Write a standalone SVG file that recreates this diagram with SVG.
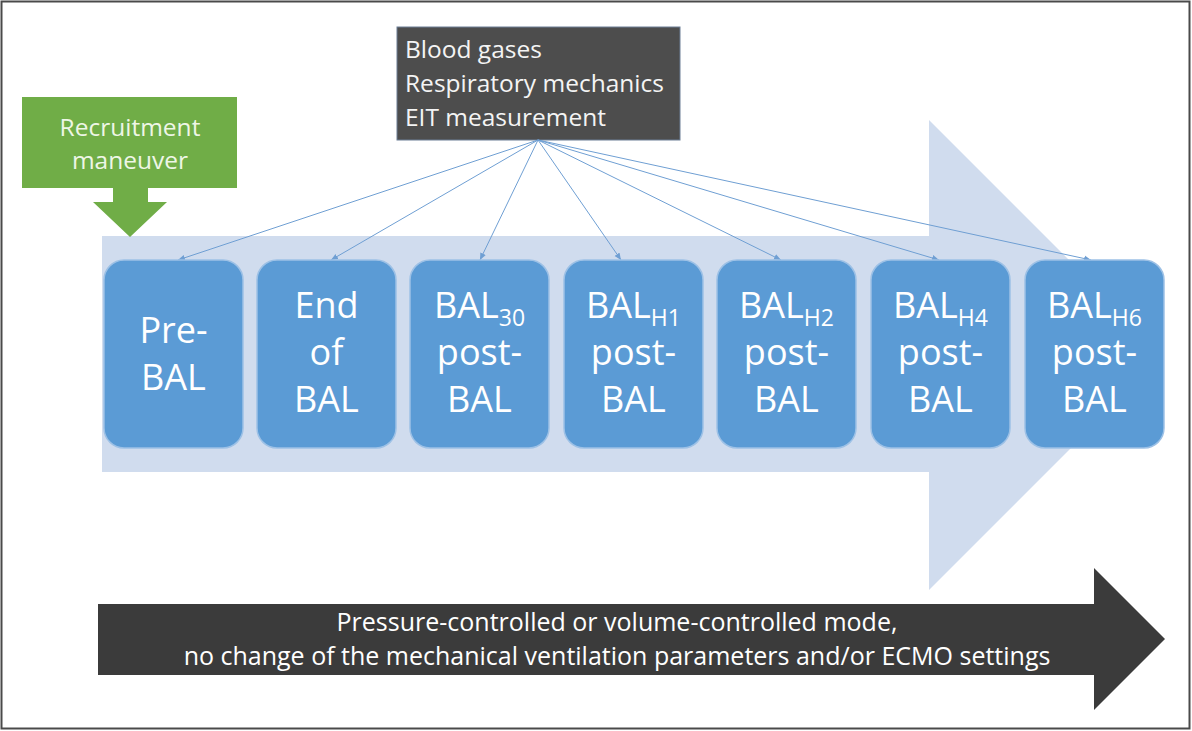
<svg xmlns="http://www.w3.org/2000/svg" width="1192" height="731" viewBox="0 0 1192 731">
<style>
  text { font-family: "Open Sans", "Liberation Sans", sans-serif; }
  .box { fill: #5B9BD5; stroke: #9DC1E6; stroke-width: 1.5; }
  .bt { fill: #FFFFFF; font-size: 36px; text-anchor: middle; }
  .sub { font-size: 23px; }
  .conn { stroke: #6F9FD3; stroke-width: 1; fill: none; marker-end: url(#ah); }
  .dt { fill: #F4F4F4; font-size: 24.5px; }
  .gt { fill: #EEF6E6; font-size: 24.5px; text-anchor: middle; }
  .bot { fill: #FFFFFF; font-size: 25px; text-anchor: middle; }
</style>
<defs>
  <marker id="ah" markerWidth="8" markerHeight="8" refX="7" refY="4" orient="auto" markerUnits="userSpaceOnUse">
    <path d="M0,1 L7,4 L0,7 Z" fill="#6F9FD3"/>
  </marker>
</defs>
<rect x="0" y="0" width="1192" height="731" fill="#FFFFFF"/>
<rect x="1.5" y="1.5" width="1188" height="727" fill="none" stroke="#4A4A4A" stroke-width="2"/>

<g id="timeline-arrow">
  <polygon points="102,236 929,236 929,120 1164,355 929,590 929,472 102,472" fill="#D0DCEE"/>
</g>

<g id="ventilation-arrow">
  <polygon points="98,604 1094,604 1094,568 1165,639 1094,710 1094,675 98,675" fill="#3B3B3B"/>
  <text class="bot" x="617" y="631">Pressure-controlled or volume-controlled mode,</text>
  <text class="bot" x="617" y="665">no change of the mechanical ventilation parameters and/or ECMO settings</text>
</g>

<g id="recruitment">
  <rect x="22" y="97" width="215" height="91" fill="#70AD47"/>
  <polygon points="113,187 148,187 148,202 167,202 130,237 93,202 113,202" fill="#70AD47"/>
  <text class="gt" x="130" y="136">Recruitment</text>
  <text class="gt" x="130" y="169">maneuver</text>
</g>

<g id="measurements">
  <rect x="397" y="27" width="283" height="113" fill="#4D4D4D" stroke="#6C7F96" stroke-width="1"/>
  <text class="dt" x="405" y="58">Blood gases</text>
  <text class="dt" x="405" y="92">Respiratory mechanics</text>
  <text class="dt" x="405" y="126">EIT measurement</text>
</g>

<g id="connectors">
  <line class="conn" x1="538" y1="140" x2="178" y2="260"/>
  <line class="conn" x1="538" y1="140" x2="331" y2="260"/>
  <line class="conn" x1="538" y1="140" x2="480" y2="260"/>
  <line class="conn" x1="538" y1="140" x2="621" y2="260"/>
  <line class="conn" x1="538" y1="140" x2="781" y2="260"/>
  <line class="conn" x1="538" y1="140" x2="939" y2="260"/>
  <line class="conn" x1="538" y1="140" x2="1091" y2="260"/>
</g>

<g id="pre-bal">
  <rect class="box" x="104" y="260" width="139" height="188" rx="20"/>
  <text class="bt" x="173.5" y="343">Pre-</text>
  <text class="bt" x="173.5" y="390">BAL</text>
</g>
<g id="end-bal">
  <rect class="box" x="257" y="260" width="139" height="188" rx="20"/>
  <text class="bt" x="326.5" y="318">End</text>
  <text class="bt" x="326.5" y="365">of</text>
  <text class="bt" x="326.5" y="412">BAL</text>
</g>
<g id="bal30">
  <rect class="box" x="410" y="260" width="139" height="188" rx="20"/>
  <text class="bt" x="479.5" y="318">BAL<tspan class="sub" dy="8">30</tspan></text>
  <text class="bt" x="479.5" y="365">post-</text>
  <text class="bt" x="479.5" y="412">BAL</text>
</g>
<g id="balh1">
  <rect class="box" x="564" y="260" width="139" height="188" rx="20"/>
  <text class="bt" x="633.5" y="318">BAL<tspan class="sub" dy="8">H1</tspan></text>
  <text class="bt" x="633.5" y="365">post-</text>
  <text class="bt" x="633.5" y="412">BAL</text>
</g>
<g id="balh2">
  <rect class="box" x="717" y="260" width="139" height="188" rx="20"/>
  <text class="bt" x="786.5" y="318">BAL<tspan class="sub" dy="8">H2</tspan></text>
  <text class="bt" x="786.5" y="365">post-</text>
  <text class="bt" x="786.5" y="412">BAL</text>
</g>
<g id="balh4">
  <rect class="box" x="871" y="260" width="139" height="188" rx="20"/>
  <text class="bt" x="940.5" y="318">BAL<tspan class="sub" dy="8">H4</tspan></text>
  <text class="bt" x="940.5" y="365">post-</text>
  <text class="bt" x="940.5" y="412">BAL</text>
</g>
<g id="balh6">
  <rect class="box" x="1025" y="260" width="139" height="188" rx="20"/>
  <text class="bt" x="1094.5" y="318">BAL<tspan class="sub" dy="8">H6</tspan></text>
  <text class="bt" x="1094.5" y="365">post-</text>
  <text class="bt" x="1094.5" y="412">BAL</text>
</g>
</svg>
